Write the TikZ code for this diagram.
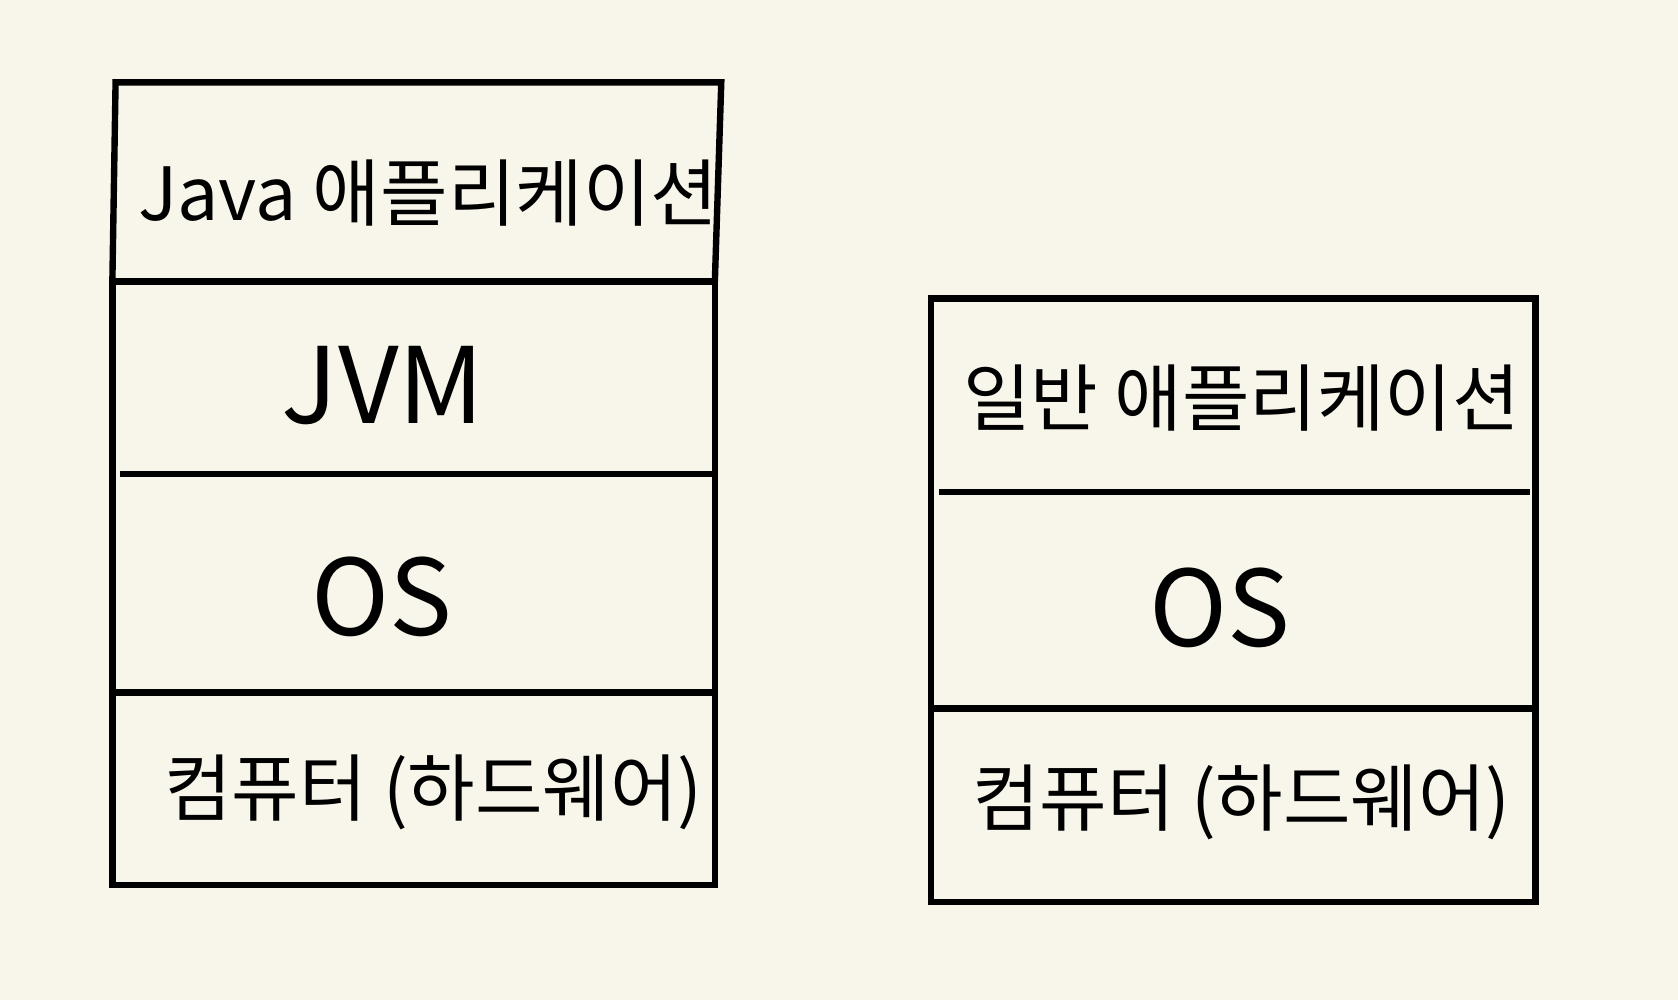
\documentclass[tikz,border=0pt]{standalone}
\usepackage{fontspec}
\setmainfont{Noto Sans CJK KR}
\usepackage{tikz}
\usetikzlibrary{positioning}
\definecolor{paper}{HTML}{F8F6EA}

\tikzset{
  layer/.style={line width=1.7pt, black},
  big/.style={font=\fontsize{28}{32}\selectfont},
  small/.style={font=\fontsize{19.5}{23}\selectfont}
}

\begin{document}
\begin{tikzpicture}[x=0.01cm, y=-0.01cm]

% fond
\fill[paper] (0,0) rectangle (1568,934);
\useasboundingbox (0,0) rectangle (1568,934);

% pile Java
\draw[layer] (105,263) -- (108,77) -- (674,77) -- (668,263);
\draw[layer] (105,263) rectangle (668,827);
\draw[layer] (112,443) -- (665,443);
\draw[layer] (105,647) -- (668,647);

\node[small] (javaapp) at (400,180) {Java 애플리케이션};
\node[big] (jvm) at (358,360) {JVM};
\node[big] (os1) at (357,558) {OS};
\node[small] (hw1) at (405,740) {컴퓨터 (하드웨어)};

% pile native
\draw[layer] (870,279) rectangle (1435,843);
\draw[layer] (877,460) -- (1430,460);
\draw[layer] (870,662) -- (1435,662);

\node[small] (natapp) at (1160,372) {일반 애플리케이션};
\node[big] (os2) at (1140,568) {OS};
\node[small] (hw2) at (1160,750) {컴퓨터 (하드웨어)};

\end{tikzpicture}
\end{document}
